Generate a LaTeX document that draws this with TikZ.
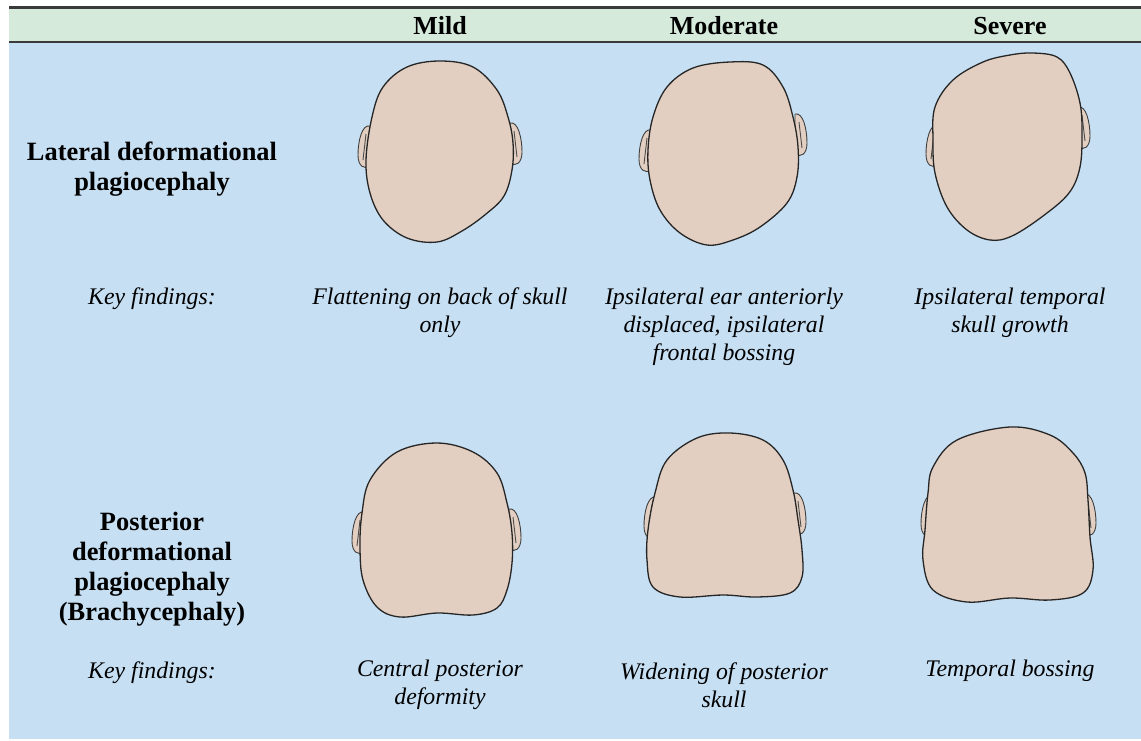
\documentclass[tikz,border=0pt]{standalone}
\usepackage{fontspec}
\setmainfont{Liberation Serif}
\usetikzlibrary{positioning}

\definecolor{bodyblue}{HTML}{C6DFF3}
\definecolor{headgreen}{HTML}{D6EADC}
\definecolor{skin}{HTML}{E2CFC1}
\definecolor{rulegray}{HTML}{3A3A3A}

\newcommand{\colmild}{440}
\newcommand{\colmod}{724}
\newcommand{\colsev}{1010}
\newcommand{\collabel}{152}
\newcommand{\headerbase}{34}

% ear seen from above, #1 = x, #2 = y of its middle
\newcommand{\earleft}[2]{%
  \begin{scope}[shift={(#1,#2)}]
    \draw[ear] (5,-21) .. controls (-3,-23) and (-7,-6) .. (-7,8)
       .. controls (-7,19) and (-1,23) .. (5,19) -- cycle;
    \draw[earline] (1,-13) -- (-2,13);
  \end{scope}}
\newcommand{\earright}[2]{%
  \begin{scope}[shift={(#1,#2)},xscale=-1]
    \draw[ear] (5,-21) .. controls (-3,-23) and (-7,-6) .. (-7,8)
       .. controls (-7,19) and (-1,23) .. (5,19) -- cycle;
    \draw[earline] (1,-13) -- (-2,13);
  \end{scope}}

\begin{document}
\begin{tikzpicture}[x=1pt,y=-1pt]
\tikzstyle{head}=[fill=skin,draw=black!85,line width=1.3pt,line join=round]
\tikzstyle{ear}=[fill=skin,draw=black!75,line width=0.9pt]
\tikzstyle{earline}=[draw=black!70,line width=0.9pt]
\tikzstyle{colhead}=[anchor=base,font=\fontsize{26}{30}\selectfont\bfseries]
\tikzstyle{rowlabel}=[align=center,font=\fontsize{26.4}{30}\selectfont\bfseries]
\tikzstyle{finding}=[align=center,font=\fontsize{23.8}{28}\selectfont\itshape]

\useasboundingbox (0,0) rectangle (1141,740);
\fill[white] (0,0) rectangle (1141,740);

%% table background
\fill[headgreen] (9,8) rectangle (1141,41);
\fill[bodyblue] (9,41) rectangle (1141,739);
\draw[rulegray,line width=3pt] (9,7) -- (1141,7);
\draw[rulegray,line width=2pt] (9,41.5) -- (1141,41.5);

%% column titles
\node (mild) [colhead] at (\colmild,\headerbase) {Mild};
\node (moderate) [colhead] at (\colmod,\headerbase) {Moderate};
\node (severe) [colhead] at (\colsev,\headerbase) {Severe};

%% lateral row
\node (lateral) [rowlabel] at (\collabel,169) {Lateral deformational\\plagiocephaly};
\node (keylat) [finding] at (\collabel,299) {Key findings:};
\node (latmild) [finding] at (\colmild,313) {Flattening on back of skull\\only};
\node (latmod) [finding] at (\colmod,327) {Ipsilateral ear anteriorly\\displaced, ipsilateral\\frontal bossing};
\node (latsev) [finding] at (\colsev,313) {Ipsilateral temporal\\skull growth};

%% posterior row
\node (posterior) [rowlabel] at (\collabel,569) {Posterior\\deformational\\plagiocephaly\\(Brachycephaly)};
\node (keypost) [finding] at (\collabel,673) {Key findings:};
\node (postmild) [finding] at (\colmild,685) {Central posterior\\deformity};
\node (postmod) [finding] at (\colmod,685) {Widening of posterior\\skull};
\node (postsev) [finding] at (\colsev,671) {Temporal bossing};

%% lateral heads
\earleft{365}{147}
\earright{515}{144}
\draw[head] plot[smooth cycle,tension=0.6] coordinates {(440,61) (473,67) (497,90)
  (508,117) (513,143) (512,170) (504,196) (486,214) (462,231) (437,242) (407,238)
  (383,220) (370,193) (366,160) (372,117) (383,87) (407,67)};

\earleft{646}{151}
\earright{800}{135}
\draw[head] plot[smooth cycle,tension=0.6] coordinates {(730,62) (763,65) (783,87)
  (793,117) (798,147) (797,177) (787,203) (760,227) (733,240) (707,245) (680,233)
  (660,210) (650,180) (648,150) (653,117) (667,87) (693,68)};

\earleft{933}{146}
\earright{1083}{128}
\draw[head] plot[smooth cycle,tension=0.6] coordinates {(1033,53) (1057,57) (1070,73)
  (1080,103) (1082,133) (1080,167) (1069,193) (1043,216) (1012,236) (990,240)
  (967,230) (947,207) (935,173) (933,140) (935,107) (953,80) (983,62) (1010,55)};

%% posterior heads
\earleft{359}{533}
\earright{514}{530}
\draw[head] plot[smooth cycle,tension=0.6] coordinates {(437,443) (473,452) (497,473)
  (507,503) (512,533) (512,563) (507,590) (497,608) (473,615) (437,613) (400,617)
  (377,607) (363,580) (360,547) (362,513) (370,480) (397,452)};

\earleft{651}{518}
\earright{799}{514}
\draw[head] plot[smooth cycle,tension=0.6] coordinates {(730,433) (763,440) (783,460)
  (793,490) (798,520) (802,550) (802,577) (790,593) (757,597) (723,595) (680,597)
  (653,587) (647,560) (648,530) (655,493) (667,460) (697,438)};

\earleft{928}{516}
\earright{1089}{515}
\draw[head] plot[smooth cycle,tension=0.6] coordinates {(1010,427) (1050,435) (1073,453)
  (1085,473) (1088,500) (1090,537) (1093,570) (1083,593) (1050,600) (1010,598)
  (967,602) (933,590) (923,560) (925,530) (928,493) (933,467) (957,440)};

\end{tikzpicture}
\end{document}
